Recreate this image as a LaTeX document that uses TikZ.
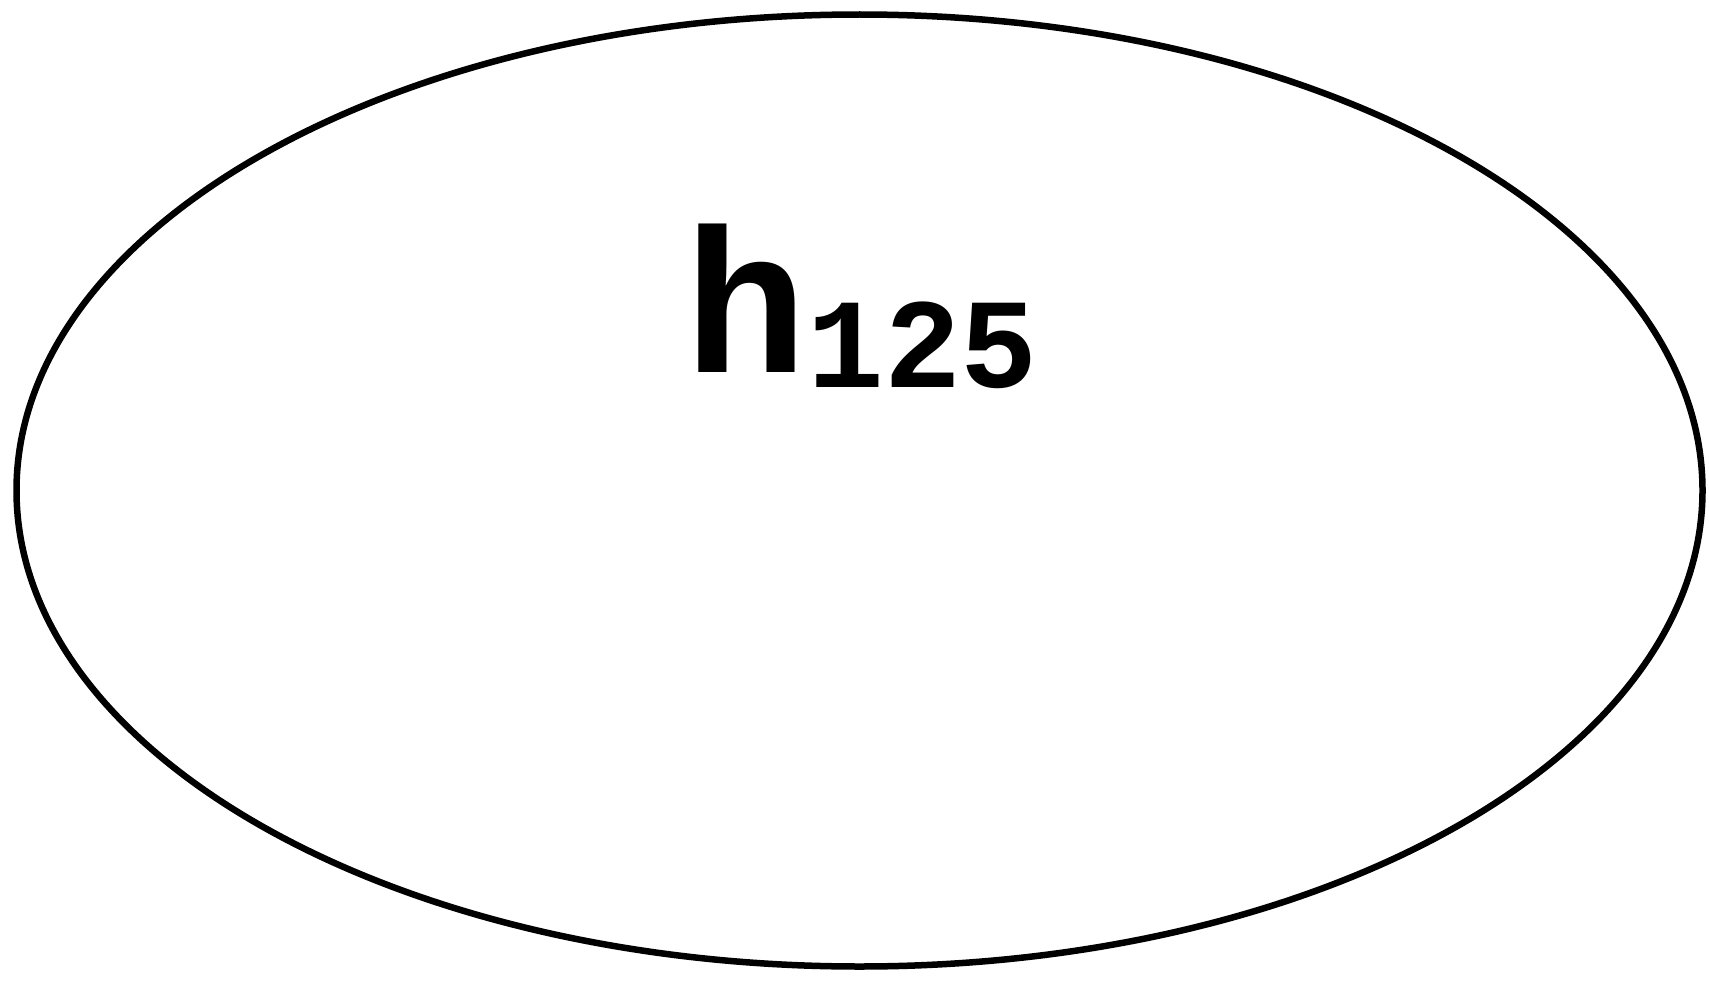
\documentclass[tikz,border=0pt]{standalone}
\usepackage{fontspec}
\newfontfamily\handfont{Liberation Mono}
\usetikzlibrary{shapes.geometric}
\tikzset{
  outline/.style={ellipse, draw=black, line width=6.5pt, inner sep=0pt,
    minimum width=1686pt, minimum height=952pt},
  labeltext/.style={inner sep=0pt, anchor=base west, text=black}
}
\begin{document}
\begin{tikzpicture}[x=1pt,y=-1pt]
\useasboundingbox (0,0) rectangle (1709,982);
\node[outline] (oval) at (859.5,490.5) {};
\node[labeltext] (lbl) at (684,372) {\handfont\bfseries\fontsize{205}{205}\selectfont h\raisebox{-15pt}{\fontsize{128}{128}\selectfont 125}};
\end{tikzpicture}
\end{document}
